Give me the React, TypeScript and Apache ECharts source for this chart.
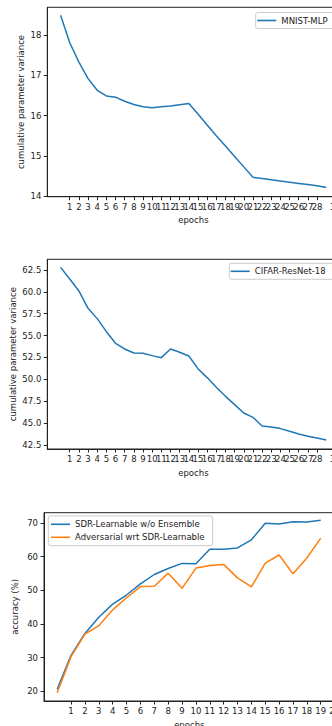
import React, { useEffect, useRef } from "react";
import * as echarts from "echarts";

// ---- data ----
const mnistVariance = [
  18.49, 17.81, 17.33, 16.92, 16.63, 16.49, 16.46, 16.36, 16.28, 16.22,
  16.2, 16.22, 16.24, 16.27, 16.3, 16.04, 15.77, 15.5, 15.25, 14.99,
  14.73, 14.47, 14.44, 14.41, 14.38, 14.35, 14.32, 14.29, 14.26, 14.22,
];
const cifarVariance = [
  62.8, 61.47, 60.1, 58.12, 56.94, 55.45, 54.12, 53.47, 53.01, 52.98,
  52.71, 52.48, 53.47, 53.09, 52.67, 51.22, 50.2, 49.09, 48.06, 47.11,
  46.16, 45.66, 44.67, 44.56, 44.37, 44.06, 43.76, 43.49, 43.3, 43.07,
];
const sdrAccuracy = [
  20.6, 30.7, 37.2, 42.0, 45.9, 48.6, 51.9, 54.7, 56.5, 58.0,
  57.9, 62.2, 62.2, 62.6, 65.0, 69.9, 69.7, 70.4, 70.3, 70.8,
];
const advAccuracy = [
  19.6, 30.3, 37.0, 39.5, 44.2, 47.8, 51.1, 51.2, 55.1, 50.6,
  56.6, 57.4, 57.7, 53.7, 51.0, 58.1, 60.5, 54.9, 59.6, 65.5,
];
const epochTicks30 = [
  1, 2, 3, 4, 5, 6, 7, 8, 9, 10, 11, 12, 13, 14, 15, 16, 17, 18, 19, 20,
  21, 22, 23, 24, 25, 26, 27, 28, 29, 30,
];
const epochTicks20 = [
  1, 2, 3, 4, 5, 6, 7, 8, 9, 10, 11, 12, 13, 14, 15, 16, 17, 18, 19, 20,
];
const mnistTicks = [14, 15, 16, 17, 18];
const cifarTicks = [42.5, 45.0, 47.5, 50.0, 52.5, 55.0, 57.5, 60.0, 62.5];
const accTicks = [20, 30, 40, 50, 60, 70];

const seriesNames = {
  mnist: "MNIST-MLP",
  cifar: "CIFAR-ResNet-18",
  sdr: "SDR-Learnable w/o Ensemble",
  adv: "Adversarial wrt SDR-Learnable",
};

const BLUE = "#1f77b4";
const ORANGE = "#ff7f0e";
const INK = "#222";
const FONT = "DejaVu Sans";
const FS = 8.5;

function xAxisDef(gridIndex: number, min: number, max: number, ticks: number[]) {
  return {
    type: "value",
    gridIndex,
    min,
    max,
    name: "epochs",
    nameLocation: "middle",
    nameGap: 19,
    nameMoveOverlap: false,
    nameTextStyle: { color: INK, fontFamily: FONT, fontSize: FS },
    axisLine: { onZero: false, lineStyle: { color: INK, width: 1 } },
    axisTick: { length: 3.5, lineStyle: { color: INK }, customValues: ticks },
    axisLabel: {
      customValues: ticks,
      color: INK,
      fontFamily: FONT,
      fontSize: FS,
      margin: 5.5,
      hideOverlap: false,
      showMaxLabel: true,
    },
    splitLine: { show: false },
  };
}

function yAxisDef(
  gridIndex: number,
  min: number,
  max: number,
  ticks: number[],
  name: string,
  nameGap: number,
  decimals: number
) {
  return {
    type: "value",
    gridIndex,
    min,
    max,
    name,
    nameLocation: "middle",
    nameGap,
    nameMoveOverlap: false,
    nameTextStyle: { color: INK, fontFamily: FONT, fontSize: FS },
    axisLine: { show: true, onZero: false, lineStyle: { color: INK, width: 1 } },
    axisTick: { show: true, length: 3.5, lineStyle: { color: INK }, customValues: ticks },
    axisLabel: {
      customValues: ticks,
      color: INK,
      fontFamily: FONT,
      fontSize: FS,
      margin: 6,
      formatter: (v: number) => v.toFixed(decimals),
    },
    splitLine: { show: false },
  };
}

function legendDef(left: number, top: number, names: string[], padding: number[]) {
  return {
    orient: "vertical",
    left,
    top,
    data: names.map((n) => ({ name: n, icon: "rect" })),
    itemWidth: 19,
    itemHeight: 1.6,
    itemGap: 3,
    padding,
    backgroundColor: "rgba(255,255,255,0.8)",
    borderColor: "#cccccc",
    borderWidth: 1,
    borderRadius: 2,
    textStyle: { color: INK, fontFamily: FONT, fontSize: FS, lineHeight: 10 },
  };
}

function lineSeries(name: string, values: number[], color: string, idx: number) {
  return {
    type: "line",
    name,
    xAxisIndex: idx,
    yAxisIndex: idx,
    data: values.map((v, i) => [i, v]),
    symbol: "none",
    showSymbol: false,
    lineStyle: { color, width: 1.5 },
    itemStyle: { color },
    color,
    clip: true,
  };
}

export default function App() {
  const ref = useRef<HTMLDivElement>(null);
  useEffect(() => {
    document.body.style.margin = "0";
    if (!ref.current) return;
    const chart = echarts.init(ref.current, undefined, { renderer: "svg" });
    const gridBase = {
      show: true,
      borderColor: INK,
      borderWidth: 1,
      backgroundColor: "transparent",
      containLabel: false,
      outerBoundsMode: "none",
    };
    chart.setOption({
      animation: false,
      textStyle: { fontFamily: FONT },
      grid: [
        { ...gridBase, left: 47.3, right: -7.5, top: 7.3, height: 189.4 },
        { ...gridBase, left: 47.3, right: -7.5, top: 259.3, height: 189.7 },
        { ...gridBase, left: 44, right: -2.6, top: 512.7, height: 188.3 },
      ],
      xAxis: [
        xAxisDef(0, -1.45, 30.45, epochTicks30),
        xAxisDef(1, -1.45, 30.45, epochTicks30),
        xAxisDef(2, -0.95, 20, epochTicks20),
      ],
      yAxis: [
        yAxisDef(0, 13.99, 18.69, mnistTicks, "cumulative parameter variance", 21.6, 0),
        yAxisDef(1, 42.04, 63.72, cifarTicks, "cumulative parameter variance", 29.6, 1),
        yAxisDef(2, 17.12, 73.06, accTicks, "accuracy (%)", 25, 0),
      ],
      legend: [
        legendDef(255.7, 12.5, [seriesNames.mnist], [3, 14, 3, 1.6]),
        legendDef(229.3, 263.3, [seriesNames.cifar], [3, 14, 3, 1.4]),
        legendDef(48.3, 516, [seriesNames.sdr, seriesNames.adv], [3.3, 8, 3.3, 2.7]),
      ],
      series: [
        lineSeries(seriesNames.mnist, mnistVariance, BLUE, 0),
        lineSeries(seriesNames.cifar, cifarVariance, BLUE, 1),
        lineSeries(seriesNames.sdr, sdrAccuracy, BLUE, 2),
        lineSeries(seriesNames.adv, advAccuracy, ORANGE, 2),
      ],
    });
    return () => chart.dispose();
  }, []);
  return (
    <div style={{ width: 332, height: 726, overflow: "hidden", background: "#fff" }}>
      <div ref={ref} style={{ width: 332, height: 726 }} />
    </div>
  );
}
